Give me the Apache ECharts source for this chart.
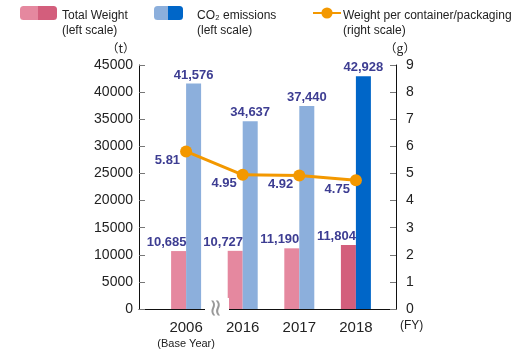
<!DOCTYPE html>
<html><head><meta charset="utf-8">
<script src="https://cdn.jsdelivr.net/npm/echarts@6/dist/echarts.min.js"></script>
<style>html,body{margin:0;padding:0;background:#fff}#c{width:526px;height:355px}</style>
</head><body><div id="c"></div>
<script>
const categories = ['2006', '2016', '2017', '2018'];
const categoryNotes = ['(Base Year)', '', '', ''];
const totalWeight = [10685, 10727, 11190, 11804];
const co2Emissions = [41576, 34637, 37440, 42928];
const weightPerContainer = [5.81, 4.95, 4.92, 4.75];

const FONT = '"Liberation Sans", Arial, Helvetica, sans-serif';
const PINK = '#e5889f', PINK_D = '#d35e7c';
const BLUE = '#8cafdc', BLUE_D = '#0066c8';
const ORANGE = '#f39800';
const NAVY = '#3d3d92';
const lastIdx = categories.length - 1;

function twoTone(a, b) {
  return {type: 'linear', x: 0, y: 0, x2: 1, y2: 0, colorStops: [
    {offset: 0, color: a}, {offset: 0.5, color: a}, {offset: 0.5, color: b}, {offset: 1, color: b}]};
}

const chart = echarts.init(document.getElementById('c'));
function legendText(padLeft) {
  return {fontFamily: FONT, fontSize: 12, color: '#222', padding: [0, 0, 0, padLeft],
    rich: {e: {lineHeight: 21, fontSize: 12}, t: {lineHeight: 15, fontSize: 12, color: '#222', fontFamily: FONT}}};
}
const LTOP = -13;
const LBL = {color: NAVY, fontSize: 13, fontFamily: FONT, fontWeight: 'bold'};
chart.setOption({
  animation: false,
  backgroundColor: '#fff',
  textStyle: {fontFamily: FONT},
  legend: [
    {left: 15, top: LTOP, itemWidth: 37, itemHeight: 14, selectedMode: false, textStyle: legendText(0),
     data: [{name: 'Total Weight', itemStyle: {color: twoTone(PINK, PINK_D)}}],
     formatter: () => '{e| }\n{t|Total Weight}\n{t|(left scale)}'},
    {left: 149, top: LTOP, itemWidth: 29, itemHeight: 14, selectedMode: false, textStyle: legendText(9),
     data: [{name: 'CO2 emissions', itemStyle: {color: twoTone(BLUE, BLUE_D)}}],
     formatter: () => '{e| }\n{t|CO\u2082 emissions}\n{t|(left scale)}'},
    {left: 307, top: LTOP, itemWidth: 28, itemHeight: 14, selectedMode: false, textStyle: legendText(-3),
     data: ['Weight per container/packaging'],
     formatter: () => '{e| }\n{t|Weight per container/packaging}\n{t|(right scale)}'}
  ],
  grid: [
    {left: 157.8, right: 141.8, top: 65, bottom: 46},
    {left: 139, right: 130, top: 65, bottom: 46}
  ],
  xAxis: [
    {type: 'category', gridIndex: 0, data: categories,
     axisLine: {show: false}, axisTick: {show: false},
     axisLabel: {interval: 0, margin: 10, color: '#222', fontFamily: FONT,
       formatter: (v, i) => categoryNotes[i] ? '{a|' + v + '}\n{b|' + categoryNotes[i] + '}' : '{a|' + v + '}',
       rich: {a: {fontSize: 15, lineHeight: 17, color: '#222', fontFamily: FONT},
              b: {fontSize: 11, lineHeight: 16, color: '#222', fontFamily: FONT}}}},
    {type: 'category', gridIndex: 1, data: [''],
     axisLine: {show: true, lineStyle: {color: '#111', width: 1}}, axisTick: {show: false},
     axisLabel: {show: false},
     name: '(FY)', nameLocation: 'end', nameGap: 4,
     nameTextStyle: {fontFamily: FONT, fontSize: 12, color: '#222', verticalAlign: 'top', padding: [11, 0, 0, 0]}}
  ],
  yAxis: [
    {type: 'value', gridIndex: 0, position: 'left', offset: 18.8, min: 0, max: 45000, interval: 5000,
     name: '\uff08t\uff09', nameLocation: 'end', nameGap: 11,
     nameTextStyle: {fontFamily: '"Noto Sans CJK JP", ' + FONT, fontSize: 12, color: '#222', align: 'right', padding: [0, 4, 0, 0]},
     axisLine: {show: true, lineStyle: {color: '#111', width: 1}},
     axisTick: {show: true, inside: true, length: 6, lineStyle: {color: '#777'}},
     axisLabel: {margin: 6, color: '#222', fontSize: 14, fontFamily: FONT, formatter: v => String(v)},
     splitLine: {show: false}},
    {type: 'value', gridIndex: 0, position: 'right', offset: 11.8, min: 0, max: 9, interval: 1,
     name: '\uff08g\uff09', nameLocation: 'end', nameGap: 11,
     nameTextStyle: {fontFamily: '"Noto Sans CJK JP", ' + FONT, fontSize: 12, color: '#222', align: 'center', padding: [0, 0, 0, 8]},
     axisLine: {show: true, lineStyle: {color: '#111', width: 1}},
     axisTick: {show: true, inside: true, length: 6, lineStyle: {color: '#777'}},
     axisLabel: {margin: 10, color: '#222', fontSize: 14, fontFamily: FONT, formatter: v => String(v)},
     splitLine: {show: false}},
    {type: 'value', gridIndex: 1, show: false, min: 0, max: 1}
  ],
  series: [
    {name: 'Total Weight', type: 'bar', xAxisIndex: 0, yAxisIndex: 0, barWidth: 15, barGap: 0,
     itemStyle: {color: PINK},
     data: totalWeight.map((v, i) => ({value: v, itemStyle: {color: i === lastIdx ? PINK_D : PINK}})),
     label: Object.assign({show: true, position: 'top', distance: 2, offset: [-12, 0],
             formatter: p => p.value.toLocaleString('en-US')}, LBL)},
    {name: 'CO2 emissions', type: 'bar', xAxisIndex: 0, yAxisIndex: 0, barWidth: 15, barGap: 0,
     itemStyle: {color: BLUE},
     data: co2Emissions.map((v, i) => ({value: v, itemStyle: {color: i === lastIdx ? BLUE_D : BLUE}})),
     label: Object.assign({show: true, position: 'top', distance: 2,
             formatter: p => p.value.toLocaleString('en-US')}, LBL)},
    {name: 'Weight per container/packaging', type: 'line', xAxisIndex: 0, yAxisIndex: 1, z: 5,
     data: weightPerContainer, symbol: 'circle', symbolSize: 12,
     lineStyle: {color: ORANGE, width: 3}, itemStyle: {color: ORANGE},
     label: Object.assign({show: true, position: 'left', distance: 0, offset: [0, 9],
             formatter: p => p.value.toFixed(2)}, LBL)}
  ],
  graphic: [
    {type: 'text', x: 217, y: 308, rotation: Math.PI / 2, z: 10,
     style: {text: '\u2248', fontSize: 24, fill: '#999', textAlign: 'center', textVerticalAlign: 'middle',
             fontFamily: 'DejaVu Sans', backgroundColor: '#fff', padding: [0, 0]}}
  ]
});
</script></body></html>
